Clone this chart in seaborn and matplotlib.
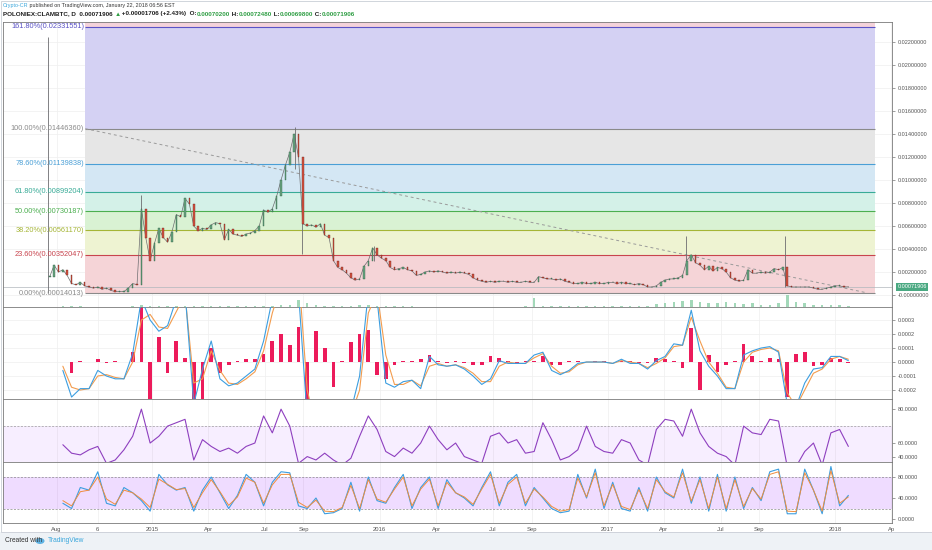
import matplotlib
matplotlib.use("Agg")
import matplotlib.pyplot as plt
import matplotlib.transforms as mtransforms
import matplotlib.patches as patches
import seaborn as sns
import pandas as pd
import numpy as np

# ---- price data (weekly closes, POLONIEX:CLAMBTC) ----
price_start = "2014-07-21"
close = [
    0.0016, 0.0026, 0.0020, 0.0022, 0.0017, 0.0010, 0.0009, 0.0011, 0.0008, 0.0007,
    0.0006, 0.0007, 0.0005, 0.0006, 0.0004, 0.0003, 0.0003, 0.0003, 0.0006, 0.0010,
    0.0009, 0.0075, 0.0050, 0.0030, 0.0045, 0.0058, 0.0050, 0.0046, 0.0055, 0.0070,
    0.0068, 0.0084, 0.0079, 0.0060, 0.0056, 0.0058, 0.0057, 0.0061, 0.0063, 0.0062,
    0.0048, 0.0057, 0.0053, 0.0052, 0.0051, 0.0053, 0.0054, 0.0056, 0.0060, 0.0074,
    0.0072, 0.0075, 0.0086, 0.0100, 0.0113, 0.0124, 0.0140, 0.0120, 0.0062, 0.0060,
    0.0061, 0.0059, 0.0062, 0.0052, 0.0050, 0.0030, 0.0024, 0.0022, 0.0019, 0.0015,
    0.0013, 0.0014, 0.0025, 0.0030, 0.0041, 0.0035, 0.0032, 0.0030, 0.0024, 0.0022,
    0.0023, 0.0024, 0.0022, 0.0021, 0.0017, 0.0018, 0.0020, 0.0021, 0.0020, 0.0021,
    0.0020, 0.0019, 0.0020, 0.0019, 0.0020, 0.0019, 0.0018, 0.0015, 0.0013, 0.0012,
    0.0011, 0.0012, 0.0011, 0.0012, 0.0012, 0.0011, 0.0012, 0.0011, 0.0011, 0.0012,
    0.0011, 0.0011, 0.0016, 0.0015, 0.0014, 0.0014, 0.0013, 0.0014, 0.0012, 0.0011,
    0.0010, 0.0010, 0.0011, 0.0010, 0.0010, 0.0011, 0.0010, 0.0010, 0.0011, 0.0011,
    0.0010, 0.0011, 0.0010, 0.0010, 0.0009, 0.0010, 0.0009, 0.0007, 0.0007, 0.0008,
    0.0011, 0.0013, 0.0014, 0.0014, 0.0015, 0.0017, 0.0030, 0.0035, 0.0028, 0.0026,
    0.0022, 0.0025, 0.0021, 0.0024, 0.0023, 0.0020, 0.0015, 0.0013, 0.0012, 0.0013,
    0.0022, 0.0019, 0.0019, 0.0020, 0.0019, 0.0020, 0.0023, 0.0022, 0.0024, 0.0008,
    0.0007, 0.0007, 0.0007, 0.0007, 0.0007, 0.0006, 0.0005, 0.0005, 0.0006, 0.0007,
    0.0008, 0.0008, 0.0007, 0.00071906,
]
# big wicks
wick_dates = ["2014-07-18", "2014-12-15", "2015-08-18", "2015-08-29",
              "2015-12-23", "2017-05-07", "2017-10-12"]
wick_low = [0.0002, 0.0030, 0.0110, 0.0036, 0.0030, 0.0018, 0.0007]
wick_high = [0.0224, 0.0087, 0.0146, 0.0065, 0.0043, 0.0051, 0.0051]

# ---- fibonacci retracement ----
fib_low = 0.00014013
fib_high = 0.0144636049
fib_levels = [0.0, 0.236, 0.382, 0.5, 0.618, 0.786, 1.0, 1.618, 2.618]
fib_line_colors = ["#8a8a8a", "#c8444e", "#a5b536", "#4caf50", "#38ab97",
                   "#4a9fd6", "#8a8a8a", "#5a52c6", "#e0708a"]
fib_band_colors = ["#f5d4d7", "#eef3d2", "#d9f2d3", "#d4f1e8", "#d4e7f4",
                   "#e6e6e6", "#d4d1f3", "#f4d2da"]
fib_start = "2014-09-16"
fib_end = "2018-03-06"

trend_dates = ["2014-09-16", "2018-02-20"]
trend_vals = [0.0144636, 0.0002]

# ---- indicators (two-week samples) ----
ind_start = "2014-08-11"
volume = [
    1.0, 0.8, 0.5, 0.4, 0.3, 0.3, 0.3, 0.3, 0.6, 2.0,
    1.2, 1.0, 0.8, 0.8, 1.0, 1.0, 0.8, 0.6, 0.5, 0.5,
    0.5, 0.5, 0.5, 0.8, 1.0, 1.5, 2.0, 6.0, 3.0, 1.5,
    1.0, 1.0, 0.8, 0.8, 1.5, 2.0, 1.0, 0.8, 0.5, 0.5,
    0.5, 0.4, 0.4, 0.4, 0.4, 0.4, 0.4, 0.4, 0.4, 0.4,
    0.4, 0.4, 0.4, 0.5, 8.0, 0.6, 0.5, 0.5, 0.5, 0.5,
    0.5, 0.5, 0.5, 0.5, 0.5, 0.5, 0.6, 0.8, 2.5, 3.0,
    4.0, 5.0, 6.0, 4.0, 3.0, 3.0, 4.0, 3.0, 2.5, 3.0,
    2.0, 2.0, 3.0, 10.0, 4.0, 3.0, 2.0, 2.0, 1.5, 1.5,
    1.0,
]
# MACD values in units of 1e-4
macd = [
    -0.6, -2.5, -1.9, -1.9, -0.6, -1.0, -1.2, -1.2, 0.6, 4.5,
    3.0, 2.2, 2.6, 4.5, 5.0, -3.0, -0.5, 1.5, -1.2, -1.7,
    -1.5, -1.0, -0.5, 1.5, 4.5, 6.0, 8.0, 5.0, -4.0, -5.0,
    -4.0, -4.0, -4.0, -3.5, -1.0, 5.0, 4.5, -1.5, -1.8, -1.4,
    -1.3, -1.9, 0.4, -0.2, -0.3, -0.2, -0.5, -1.0, -1.6, -1.2,
    0.1, -0.1, -0.1, -0.1, 0.5, 0.7, -0.6, -0.9, -0.6, -0.1,
    0.0, 0.0, 0.0, -0.1, 0.2, -0.1, -0.1, -0.5, 0.1, 0.4,
    1.3, 1.2, 3.7, 0.8, -0.3, -1.0, -1.9, -1.9, 0.5, 0.8,
    1.0, 1.1, 0.7, -3.0, -3.2, -1.5, -0.5, -0.4, 0.4, 0.4,
    0.1,
]
signal = [
    -0.3, -1.8, -2.0, -1.9, -1.0, -0.9, -1.1, -1.2, 0.0, 3.0,
    3.4, 2.5, 2.4, 3.6, 4.8, -1.5, -1.2, 0.8, -0.6, -1.5,
    -1.6, -1.2, -0.7, 0.8, 3.5, 5.5, 7.5, 6.5, -2.0, -4.6,
    -4.2, -4.0, -4.0, -3.8, -2.0, 3.5, 5.0, 0.5, -1.6, -1.6,
    -1.3, -1.7, -0.3, -0.1, -0.3, -0.2, -0.4, -0.8, -1.4, -1.4,
    -0.3, 0.0, -0.1, -0.1, 0.3, 0.6, -0.3, -0.8, -0.7, -0.2,
    0.0, 0.0, 0.0, -0.1, 0.1, 0.0, -0.1, -0.4, -0.1, 0.3,
    1.1, 1.2, 3.2, 1.5, 0.0, -0.8, -1.8, -1.9, 0.0, 0.7,
    0.9, 1.0, 0.8, -2.2, -3.2, -2.0, -0.8, -0.5, 0.2, 0.4,
    0.2,
]
macd_hist = [
    0.0, -0.8, 0.1, 0.0, 0.2, -0.1, 0.1, 0.0, 0.7, 4.5,
    -4.0, 1.8, -0.8, 1.5, 0.3, -4.5, -3.0, 1.0, -0.8, -0.2,
    0.1, 0.2, 0.2, 0.6, 1.5, 2.0, 1.2, 2.5, -4.5, 2.2,
    1.0, -1.8, 0.1, 1.4, 2.0, 2.3, -0.9, -1.2, -0.2, 0.1,
    0.1, 0.2, 0.5, 0.1, -0.1, 0.1, -0.1, -0.2, -0.2, 0.4,
    0.3, 0.1, -0.1, 0.1, 0.1, 0.4, -0.2, -0.2, 0.1, 0.1,
    0.0, 0.1, 0.1, 0.0, 0.1, 0.1, -0.1, -0.1, 0.3, 0.2,
    0.1, -0.4, 2.4, -2.0, 0.5, -0.7, -0.2, 0.1, 1.3, 0.4,
    0.1, 0.3, 0.2, -2.5, 0.6, 0.7, -0.3, -0.2, 0.3, 0.2,
    -0.1,
]
rsi = [
    59, 54, 53, 56, 58, 48, 50, 56, 64, 80,
    60, 64, 70, 72, 74, 50, 62, 58, 55, 57,
    54, 58, 60, 76, 66, 80, 70, 48, 52, 50,
    54, 50, 47, 51, 64, 76, 68, 55, 52, 57,
    54, 60, 70, 62, 56, 60, 52, 50, 48, 64,
    66, 60, 62, 54, 55, 72, 62, 50, 52, 56,
    70, 58, 55, 54, 62, 60, 50, 47, 68, 74,
    73, 64, 80, 66, 58, 54, 52, 47, 70, 66,
    65, 74, 73, 46, 46, 55, 60, 47, 66, 68,
    58,
]
stoch_k = [
    30, 20, 60, 55, 90, 30, 25, 60, 50, 35,
    15, 85, 65, 55, 60, 15, 55, 80, 50, 20,
    45, 85, 70, 25, 70, 90, 88, 25, 20, 40,
    10, 12, 20, 70, 15, 80, 35, 30, 60, 85,
    20, 60, 80, 20, 75, 50, 40, 25, 60, 90,
    25, 70, 85, 25, 60, 40, 20, 12, 15, 85,
    40, 95, 20, 70, 20, 15, 60, 15, 80, 50,
    40, 95, 30, 80, 15, 85, 15, 80, 20, 60,
    35, 90, 95, 10, 10, 95, 55, 10, 100, 25,
    45,
]
stoch_d = [
    35, 25, 52, 55, 80, 38, 28, 55, 50, 38,
    22, 76, 66, 56, 58, 22, 50, 75, 52, 26,
    42, 78, 70, 30, 65, 85, 85, 32, 22, 36,
    15, 14, 22, 64, 20, 75, 38, 32, 57, 80,
    25, 57, 76, 25, 70, 50, 42, 28, 57, 85,
    30, 66, 80, 30, 57, 42, 24, 15, 18, 78,
    42, 88, 25, 66, 24, 18, 56, 20, 75, 52,
    42, 88, 34, 75, 20, 80, 20, 75, 24, 58,
    38, 85, 90, 15, 14, 88, 55, 15, 92, 30,
    42,
]

tick_dates = ["2014-08-01", "2014-10-06", "2015-01-01", "2015-04-01", "2015-07-01",
              "2015-09-01", "2016-01-01", "2016-04-01", "2016-07-01", "2016-09-01",
              "2017-01-01", "2017-04-01", "2017-07-01", "2017-09-01", "2018-01-01",
              "2018-04-01"]
tick_labels = ["Aug", "6", "2015", "Apr", "Jul", "Sep", "2016", "Apr", "Jul", "Sep",
               "2017", "Apr", "Jul", "Sep", "2018", "Ap"]

W, H = 932, 550


def px_rect(x0, y0, x1, y1):
    return [x0 / W, 1 - y1 / H, (x1 - x0) / W, (y1 - y0) / H]


def style_axis(ax):
    ax.yaxis.tick_right()
    ax.tick_params(axis="y", labelsize=4, colors="#555555", length=2, width=0.4, pad=2)
    ax.tick_params(axis="x", labelsize=4.2, colors="#555555", length=0, pad=3)
    for s in ax.spines.values():
        s.set_color("#7a7a7a")
        s.set_linewidth(0.6)
    ax.set_facecolor("white")
    ax.grid(axis="x", color="#efefef", lw=0.5)
    ax.set_axisbelow(True)
    ax.set_xlabel("")
    ax.set_ylabel("")


def main():
    sns.set_theme(style="white")
    plt.rcParams["font.family"] = ["Liberation Sans", "DejaVu Sans"]

    fig = plt.figure(figsize=(W / 100, H / 100), dpi=100)
    fig.patch.set_facecolor("white")

    # footer background + chart frame
    fig.patches.append(patches.Rectangle((0, 0), 1, 18 / H, transform=fig.transFigure,
                                         facecolor="#eef2f6", edgecolor="none", zorder=0))
    fig.patches.append(patches.Rectangle((0.5 / W, 18 / H), 1 - 1 / W, 1 - 18.5 / H,
                                         transform=fig.transFigure, facecolor="none",
                                         edgecolor="#c9ced6", lw=0.6, zorder=0))

    ax = fig.add_axes(px_rect(3, 22, 892, 307))
    ax_macd = fig.add_axes(px_rect(3, 307, 892, 399), sharex=ax)
    ax_rsi = fig.add_axes(px_rect(3, 399, 892, 462), sharex=ax)
    ax_st = fig.add_axes(px_rect(3, 462, 892, 523), sharex=ax)

    pdates = pd.date_range(price_start, periods=len(close), freq="7D")
    idates = pd.date_range(ind_start, periods=len(macd), freq="14D")
    t0, t1 = pd.Timestamp(fib_start), pd.Timestamp(fib_end)

    # ---- fib bands ----
    vals = [fib_low + l * (fib_high - fib_low) for l in fib_levels]
    for i in range(len(vals) - 1):
        ax.fill_between([t0, t1], vals[i], vals[i + 1], color=fib_band_colors[i],
                        lw=0, zorder=1)
    for l, v, c in zip(fib_levels, vals, fib_line_colors):
        ax.hlines(v, t0, t1, color=c, lw=0.8, zorder=2)
        if l < 2:
            ax.text(t0 - pd.Timedelta(days=2), v, f"{l * 100:.2f}%({v:.8f})",
                    ha="right", va="center", fontsize=5.3, color=c, zorder=6)

    ax.plot(pd.to_datetime(trend_dates), trend_vals, color="#9a9a9a", lw=0.7,
            ls=(0, (3, 3)), zorder=3)
    ax.axhline(close[-1], color="#b0b6bc", lw=0.5, zorder=2)

    # ---- candles ----
    opens = [close[0]] + close[:-1]
    lo = [min(o, c) for o, c in zip(opens, close)]
    hgt = [max(abs(c - o), 0.00004) for o, c in zip(opens, close)]
    up = [c >= o for o, c in zip(opens, close)]
    sns.lineplot(x=pdates, y=close, ax=ax, color="#6d6d70", lw=0.5, zorder=4)
    ax.vlines(pd.to_datetime(wick_dates), wick_low, wick_high, color="#6d6d70",
              lw=0.6, zorder=4)
    ax.bar(pdates, hgt, bottom=lo, width=2.6,
           color=["#6ba583" if u else "#d75442" for u in up],
           edgecolor=["#225437" if u else "#5b1a13" for u in up], lw=0.25, zorder=5)

    ax.set_ylim(-0.00104, 0.02374)
    yt = [0.0, 0.002, 0.004, 0.006, 0.008, 0.010, 0.012, 0.014, 0.016, 0.018, 0.020, 0.022]
    ax.set_yticks(yt)
    ax.set_yticklabels(["-0.00000000"] + [f"{v:.8f}" for v in yt[1:]])
    style_axis(ax)
    ax.grid(axis="y", color="#efefef", lw=0.5)

    # volume
    axv = ax.twinx()
    axv.bar(idates, volume, width=4, color="#8ccfa8", alpha=0.8, lw=0)
    axv.set_ylim(0, max(volume) * 24)
    axv.axis("off")
    ax.yaxis.tick_right()

    # last price tag
    trans = mtransforms.blended_transform_factory(ax.transAxes, ax.transData)
    ax.text(1.006, close[-1], f"{close[-1]:.8f}", transform=trans, fontsize=4,
            color="white", va="center", ha="left", clip_on=False, zorder=10,
            bbox=dict(boxstyle="square,pad=0.25", fc="#4aa982", ec="none"))

    # ---- MACD ----
    ax_macd.bar(idates, macd_hist, width=6, color="#ec1b5b", lw=0, zorder=2)
    sns.lineplot(x=idates, y=signal, ax=ax_macd, color="#f39c4e", lw=0.8, zorder=3)
    sns.lineplot(x=idates, y=macd, ax=ax_macd, color="#3c9ee0", lw=0.8, zorder=4)
    ax_macd.set_ylim(-2.64, 3.93)
    ax_macd.set_yticks([3, 2, 1, 0, -1, -2])
    ax_macd.set_yticklabels(["0.0003", "0.0002", "0.0001", "0.0000", "-0.0001", "-0.0002"])
    style_axis(ax_macd)
    ax_macd.grid(axis="y", color="#efefef", lw=0.5)

    # ---- RSI ----
    ax_rsi.axhspan(30, 70, color="#9915ff", alpha=0.07, lw=0)
    for lv in (70, 30):
        ax_rsi.axhline(lv, color="#9a9a9a", lw=0.5, ls=(0, (3, 2)))
    sns.lineplot(x=idates, y=rsi, ax=ax_rsi, color="#8e3fbf", lw=0.8)
    ax_rsi.set_ylim(48.8, 86)
    ax_rsi.set_yticks([80, 60, 51.5])
    ax_rsi.set_yticklabels(["80.0000", "60.0000", "40.0000"])
    style_axis(ax_rsi)

    # ---- Stochastic ----
    ax_st.axhspan(20, 80, color="#9915ff", alpha=0.15, lw=0)
    for lv in (80, 20):
        ax_st.axhline(lv, color="#8a8a8a", lw=0.5, ls=(0, (3, 2)))
    sns.lineplot(x=idates, y=stoch_k, ax=ax_st, color="#3c9ee0", lw=0.8)
    sns.lineplot(x=idates, y=stoch_d, ax=ax_st, color="#f08c3c", lw=0.7)
    ax_st.set_ylim(-7.6, 108.6)
    ax_st.set_yticks([80, 40, 0])
    ax_st.set_yticklabels(["80.0000", "40.0000", "0.0000"])
    style_axis(ax_st)

    ax.set_xlim(pd.Timestamp("2014-05-07"), pd.Timestamp("2018-04-02"))
    ax_st.set_xticks(pd.to_datetime(tick_dates))
    ax_st.set_xticklabels(tick_labels)
    for a in (ax, ax_macd, ax_rsi):
        a.tick_params(axis="x", labelbottom=False)

    # ---- header ----
    r = fig.canvas.get_renderer()

    def seq_text(x, y, parts, **kw):
        for s, c in parts:
            t = fig.text(x, y, s, color=c, va="center", ha="left", **kw)
            x = t.get_window_extent(renderer=r).x1 / fig.bbox.width

    dark, green = "#1e1e1e", "#2f9e44"
    seq_text(3 / W, 1 - 5 / H, [("Crypto-CR", "#3aa7dc"),
                                (" published on TradingView.com, January 22, 2018 06:56 EST", "#333333")],
             fontsize=3.9)
    seq_text(3 / W, 1 - 14 / H, [("POLONIEX:CLAMBTC, D  0.00071906 ", dark), ("\u25b2", green),
                                 (" +0.00001706 (+2.43%)  O:", dark), ("0.00070200", green),
                                 (" H:", dark), ("0.00072480", green),
                                 (" L:", dark), ("0.00069800", green),
                                 (" C:", dark), ("0.00071906", green)],
             fontsize=4.5, fontweight="bold")

    # ---- footer ----
    fig.text(5 / W, 1 - 541 / H, "Created with", fontsize=4.8, color="#333333",
             va="center", ha="left")
    fig.patches.append(patches.Ellipse((40 / W, 1 - 541 / H), 9 / W, 6 / H,
                                       transform=fig.transFigure, facecolor="#5fb3e4",
                                       edgecolor="none"))
    fig.text(48 / W, 1 - 541 / H, "TradingView", fontsize=4.8, color="#3aa7dc",
             va="center", ha="left")

    fig.savefig("out.png", dpi=100)


if __name__ == "__main__":
    main()
